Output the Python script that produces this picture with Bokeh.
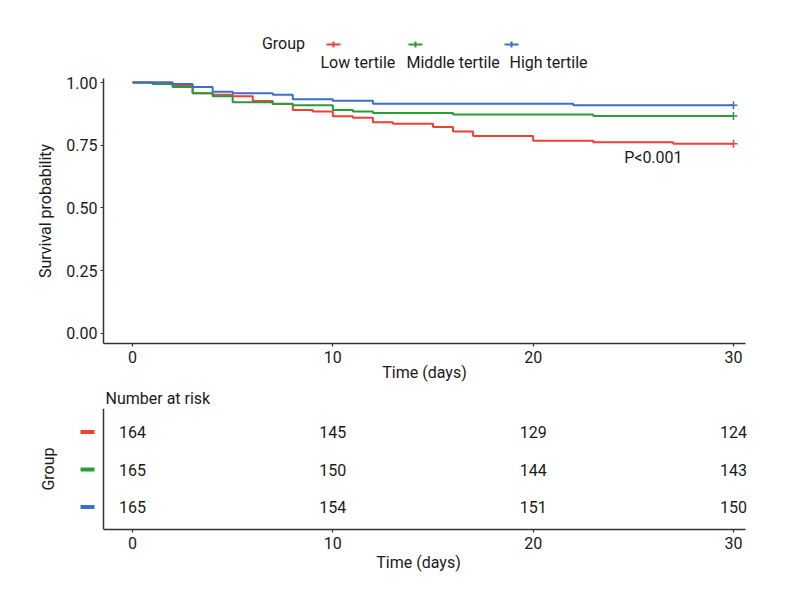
from bokeh.plotting import figure
from bokeh.models import (Range1d, FixedTicker, Label, BoxAnnotation, Span,
                          ColumnDataSource, NumeralTickFormatter)
from bokeh.embed import file_html
from bokeh.resources import INLINE
from bokeh.core.properties import value

FONT = "Roboto"

# ---------------- data ----------------
groups = ["Low tertile", "Middle tertile", "High tertile"]
colors = ["#EE4036", "#2A9D38", "#3D6EC9"]
group_n = [164, 165, 165]

low_time = [0, 2, 3, 4, 5, 6, 7, 8, 9, 10, 11, 12, 13, 15, 16, 17, 20, 23, 27, 30]
low_alive = [164, 162, 157, 156, 155, 152, 150, 146, 145, 142, 141, 138, 137, 135, 132, 129, 126, 125, 124, 124]

mid_time = [0, 1, 2, 3, 4, 5, 7, 8, 10, 11, 12, 16, 23, 30]
mid_alive = [165, 164, 162, 158, 156, 152, 151, 150, 147, 146, 145, 144, 143, 143]

high_time = [0, 2, 3, 4, 5, 7, 8, 10, 12, 22, 30]
high_alive = [165, 164, 162, 159, 158, 157, 154, 153, 151, 150, 150]

risk_times = [0, 10, 20, 30]
low_risk = [164, 145, 129, 124]
mid_risk = [165, 150, 144, 143]
high_risk = [165, 154, 151, 150]

x_ticks = [0, 10, 20, 30]
y_ticks = [0, 0.25, 0.5, 0.75, 1.0]
p_value_text = "P<0.001"
p_value_pos = (26, 0.70)

times = [low_time, mid_time, high_time]
alive = [low_alive, mid_alive, high_alive]
risks = [low_risk, mid_risk, high_risk]

# ---------------- layout constants ----------------
W = 790
FRAME_L, FRAME_R = 103, 745          # page x of the survival panel
X_START, X_END = -1.45, 30.6
PPD = (FRAME_R - FRAME_L) / (X_END - X_START)   # pixels per day
Y_LO, Y_HI = -0.04, 1.016
H0 = 72                               # legend strip
TOP1, FRAME_H1, BOT1 = 6, 265, 42
RISK_L, RISK_R = 76, 760
AX = "#333333"
TXT = "#1a1a1a"


def style_axis(ax):
    ax.axis_line_color = AX
    ax.axis_line_width = 1.5
    ax.major_tick_line_color = AX
    ax.major_tick_line_width = 1.2
    ax.major_tick_out = 3
    ax.major_tick_in = 0
    ax.minor_tick_line_color = None
    ax.major_label_text_font = FONT
    ax.major_label_text_font_size = "16px"
    ax.major_label_text_color = TXT
    ax.axis_label_text_font = FONT
    ax.axis_label_text_font_size = "16px"
    ax.axis_label_text_font_style = "normal"
    ax.axis_label_text_color = TXT


def text_label(x, y, text, align="left"):
    return Label(x=x, y=y, x_units="screen", y_units="screen", text=text,
                 text_align=align, text_baseline="middle",
                 text_font=FONT, text_font_size="16px", text_color=TXT)


# ---------------- legend strip ----------------
lg = figure(width=W, height=H0, x_range=Range1d(0, 1), y_range=Range1d(0, 1),
            title=None, output_backend="svg", toolbar_location=None,
            x_axis_location=None, y_axis_location=None,
            min_border_left=0, min_border_right=0, min_border_top=0,
            min_border_bottom=0)
lg.outline_line_color = None
lg.grid.visible = False
lg.add_layout(text_label(283, H0 - 43, "Group", "center"))
key_x = [333, 415, 511]
lab_x = [320, 406, 509]
key_y = H0 - 44
for g, c, kx, lx in zip(groups, colors, key_x, lab_x):
    lg.add_layout(BoxAnnotation(left=kx - 7, right=kx + 7, bottom=key_y - 1, top=key_y + 1,
                                left_units="screen", right_units="screen",
                                top_units="screen", bottom_units="screen",
                                fill_color=c, fill_alpha=1, line_color=None))
    lg.add_layout(BoxAnnotation(left=kx - 1, right=kx + 1, bottom=key_y - 3, top=key_y + 3,
                                left_units="screen", right_units="screen",
                                top_units="screen", bottom_units="screen",
                                fill_color=c, fill_alpha=1, line_color=None))
    lg.add_layout(text_label(lx, 10, g))

# ---------------- survival plot ----------------
p = figure(width=W, height=TOP1 + FRAME_H1 + BOT1, x_range=Range1d(X_START, X_END),
           y_range=Range1d(Y_LO, Y_HI), title=None,
           output_backend="svg", toolbar_location=None,
           min_border_left=FRAME_L, min_border_right=W - FRAME_R,
           min_border_top=TOP1, min_border_bottom=BOT1)
p.outline_line_color = None
p.xgrid.visible = False
p.ygrid.visible = False

for t, a, n, c in zip(times, alive, group_n, colors):
    src = ColumnDataSource(dict(t=t, s=[v / n for v in a]))
    p.step("t", "s", source=src, mode="after", line_width=2, line_color=c)
    p.scatter([t[-1]], [a[-1] / n], marker="cross", size=8, line_width=1.5,
              line_color=c)

p.xaxis.ticker = FixedTicker(ticks=x_ticks)
p.yaxis.ticker = FixedTicker(ticks=y_ticks)
p.yaxis.formatter = NumeralTickFormatter(format="0.00")
p.xaxis.axis_label = "Time (days)"
p.yaxis.axis_label = "Survival probability"
style_axis(p.xaxis[0])
style_axis(p.yaxis[0])
p.xaxis.major_label_standoff = 4
p.xaxis.axis_label_standoff = -3
p.yaxis.major_label_standoff = 3
p.yaxis.axis_label_standoff = 8

p.add_layout(Label(x=p_value_pos[0], y=p_value_pos[1], text=p_value_text,
                   text_align="center", text_baseline="middle",
                   text_font=FONT, text_font_size="16px", text_color=TXT))

# ---------------- risk table ----------------
H2 = 194
r_x_start = X_START - (FRAME_L - RISK_L) / PPD
r_x_end = X_END + (RISK_R - FRAME_R) / PPD
r = figure(width=W, height=H2, x_range=Range1d(r_x_start, r_x_end),
           y_range=Range1d(0.4, 3.63),
           output_backend="svg", toolbar_location=None,
           min_border_left=RISK_L, min_border_right=W - RISK_R,
           min_border_top=21, min_border_bottom=50)
r.outline_line_color = None
r.xgrid.visible = False
r.ygrid.visible = False

r.title.text = "Number at risk"
r.title.align = "left"
r.title.offset = 105 - RISK_L
r.title.standoff = 2
r.title.text_font = FONT
r.title.text_font_size = "16px"
r.title.text_font_style = "normal"
r.title.text_color = TXT

rows = [3, 2, 1]
dash_x = X_START - (FRAME_L - 87) / PPD
for rk, row, c in zip(risks, rows, colors):
    src = ColumnDataSource(dict(t=risk_times, y=[row] * len(risk_times),
                                lab=[str(v) for v in rk]))
    r.text("t", "y", text="lab", source=src, text_align="center",
           text_baseline="middle", text_font=value(FONT),
           text_font_size="16px", text_color=TXT)
    r.rect(x=[dash_x], y=[row], width=14, height=4, width_units="screen",
           height_units="screen", fill_color=c, line_color=None)

r.add_layout(Span(location=X_START, dimension="height", line_color=AX,
                  line_width=1.5))

r.xaxis.ticker = FixedTicker(ticks=x_ticks)
r.xaxis.bounds = (X_START, X_END)
r.yaxis.ticker = FixedTicker(ticks=[])
r.xaxis.axis_label = "Time (days)"
r.yaxis.axis_label = "Group"
style_axis(r.xaxis[0])
style_axis(r.yaxis[0])
r.yaxis.axis_line_color = None
r.yaxis.major_tick_line_color = None
r.yaxis.major_tick_out = 0
r.yaxis.axis_label_standoff = 19
r.xaxis.major_label_standoff = 4
r.xaxis.axis_label_standoff = 1

open("out.html", "w").write(file_html([lg, p, r], INLINE))
